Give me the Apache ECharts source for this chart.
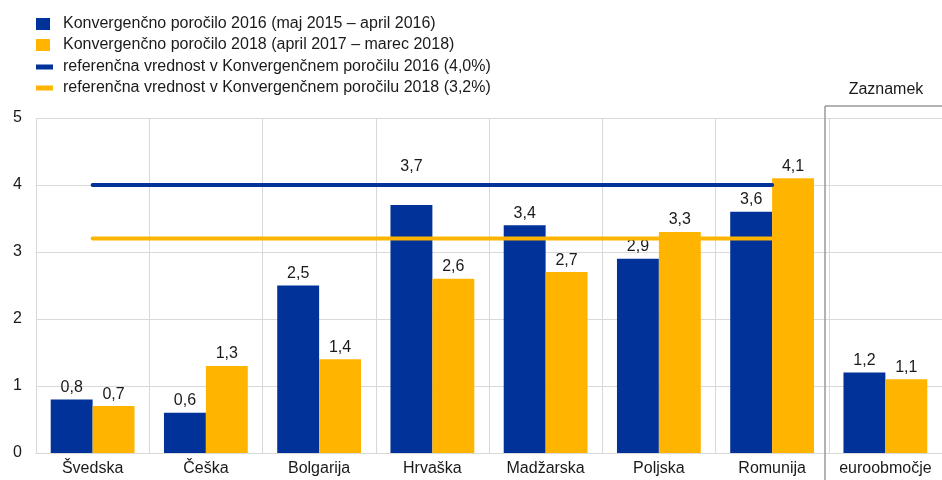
<!DOCTYPE html>
<html>
<head>
<meta charset="utf-8">
<script src="https://cdn.jsdelivr.net/npm/echarts@6/dist/echarts.min.js"></script>
<style>
html,body{margin:0;padding:0;background:#fff;}
#c{width:942px;height:480px;}
</style>
</head>
<body>
<div id="c"></div>
<script>
var categories = ['Švedska', 'Češka', 'Bolgarija', 'Hrvaška', 'Madžarska', 'Poljska', 'Romunija', 'euroobmočje'];
var report2016 = [0.8, 0.6, 2.5, 3.7, 3.4, 2.9, 3.6, 1.2];
var report2018 = [0.7, 1.3, 1.4, 2.6, 2.7, 3.3, 4.1, 1.1];
var ref2016 = [4.0, 4.0, 4.0, 4.0, 4.0, 4.0, 4.0, '-'];
var ref2018 = [3.2, 3.2, 3.2, 3.2, 3.2, 3.2, 3.2, '-'];
var yTicks = [0, 1, 2, 3, 4, 5];
var names = [
  'Konvergenčno poročilo 2016 (maj 2015 – april 2016)',
  'Konvergenčno poročilo 2018 (april 2017 – marec 2018)',
  'referenčna vrednost v Konvergenčnem poročilu 2016 (4,0%)',
  'referenčna vrednost v Konvergenčnem poročilu 2018 (3,2%)'
];
var noteLabel = 'Zaznamek';

var BLUE = '#003299', YELLOW = '#FFB400', GRID = '#d9d9d9';
var FONT = 'Liberation Sans, Arial, sans-serif';
var FS = 16;
var chart = echarts.init(document.getElementById('c'));
function fmt(p){ return String(p.value).replace('.', ','); }
var labelCfg = {show:true, position:'top', distance:4, fontSize:FS, color:'#1a1a1a', fontFamily:FONT, formatter:fmt};

// the Hrvaška 2016 label sits above the reference line
var blueData = report2016.map(function(v, i){
  return i === 3 ? {value:v, label:{distance:31}} : v;
});

chart.setOption({
  animation:false,
  textStyle:{fontFamily:FONT},
  grid:{left:36, right:-4, top:118, bottom:27, containLabel:false},
  legend:[{
    left:36, top:15, orient:'vertical', padding:0, itemWidth:14, itemHeight:12, itemGap:3,
    icon:'rect', selectedMode:false,
    textStyle:{fontSize:FS, color:'#1a1a1a', lineHeight:18, padding:[0,0,0,8], fontFamily:FONT},
    data:[names[0], names[1]]
  },{
    left:36, top:58, orient:'vertical', padding:0, itemWidth:17, itemHeight:5, itemGap:3,
    icon:'rect', selectedMode:false,
    textStyle:{fontSize:FS, color:'#1a1a1a', lineHeight:18, padding:[0,0,0,5], fontFamily:FONT},
    data:[names[2], names[3]]
  }],
  xAxis:{
    type:'category', data:categories,
    axisLine:{lineStyle:{color:GRID}},
    axisTick:{show:false, interval:0},
    axisLabel:{interval:0, fontSize:FS, color:'#1a1a1a', margin:8, fontFamily:FONT},
    splitLine:{show:true, interval:0, lineStyle:{color:GRID}}
  },
  yAxis:{
    type:'value', min:yTicks[0], max:yTicks[yTicks.length-1], interval:1,
    axisLine:{show:false}, axisTick:{show:false},
    axisLabel:{fontSize:FS, color:'#1a1a1a', margin:14, fontFamily:FONT},
    splitLine:{lineStyle:{color:GRID}}
  },
  series:[
    {name:names[0], type:'bar', data:blueData, barGap:'0%', barCategoryGap:'26%',
     itemStyle:{color:BLUE}, label:labelCfg, z:2},
    {name:names[1], type:'bar', data:report2018,
     itemStyle:{color:YELLOW}, label:labelCfg, z:2},
    {name:names[2], type:'line', data:ref2016, symbol:'none', z:5,
     itemStyle:{color:BLUE}, lineStyle:{color:BLUE, width:4, cap:'round'}},
    {name:names[3], type:'line', data:ref2018, symbol:'none', z:5,
     itemStyle:{color:YELLOW}, lineStyle:{color:YELLOW, width:4, cap:'round'}}
  ],
  graphic:[
    {type:'line', shape:{x1:825, y1:480, x2:825, y2:106}, style:{stroke:'#9a9a9a', lineWidth:1.5}, z:10},
    {type:'line', shape:{x1:825, y1:106, x2:942, y2:106}, style:{stroke:'#9a9a9a', lineWidth:1.5}, z:10},
    {type:'text', x:886, y:90, style:{text:noteLabel, fontSize:FS, fill:'#1a1a1a', fontFamily:FONT, align:'center', verticalAlign:'middle'}}
  ]
});
</script>
</body>
</html>
